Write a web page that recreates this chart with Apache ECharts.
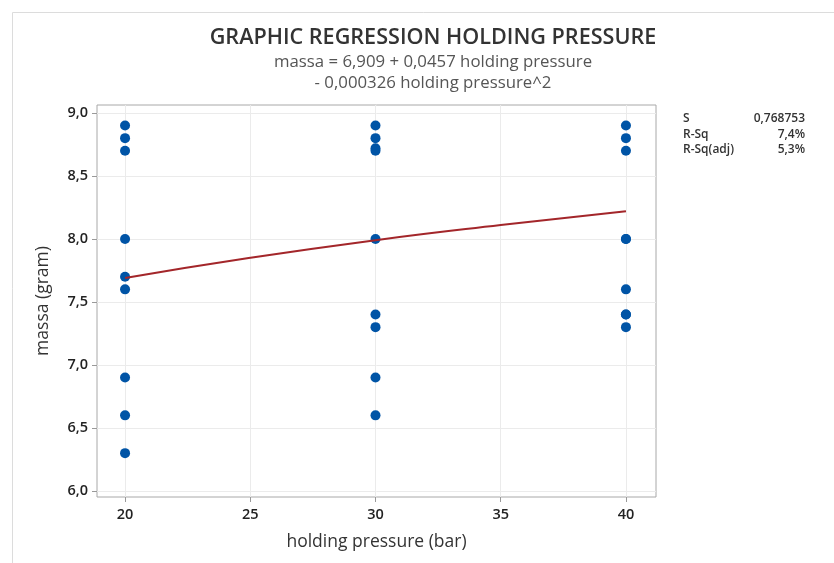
<!DOCTYPE html>
<html>
<head>
<meta charset="utf-8">
<script src="https://cdn.jsdelivr.net/npm/echarts@6/dist/echarts.min.js"></script>
<style>html,body{margin:0;padding:0;background:#fff;}#c{width:834px;height:563px;}</style>
</head>
<body>
<div id="c"></div>
<script>
// Data
const pressure20 = [8.9, 8.8, 8.7, 8.0, 7.7, 7.6, 6.9, 6.6, 6.3];
const pressure30 = [8.9, 8.8, 8.72, 8.7, 8.0, 7.4, 7.3, 6.9, 6.6];
const pressure40 = [8.9, 8.8, 8.7, 8.0, 8.0, 7.6, 7.4, 7.4, 7.3];
const fitX = [20, 25, 30, 35, 40];
const fitY = [7.69, 7.85, 7.99, 8.11, 8.22];
const xTicks = [20, 25, 30, 35, 40];
const yTicks = [6.0, 6.5, 7.0, 7.5, 8.0, 8.5, 9.0];
const statNames = ['S', 'R-Sq', 'R-Sq(adj)'];
const statValues = ['0,768753', '7,4%', '5,3%'];

const points = [];
pressure20.forEach(v => points.push([20, v]));
pressure30.forEach(v => points.push([30, v]));
pressure40.forEach(v => points.push([40, v]));
const fitData = fitX.map((x, i) => [x, fitY[i]]);

const FONT = '"Open Sans", "Noto Sans", sans-serif';
const chart = echarts.init(document.getElementById('c'), null, {renderer: 'canvas'});

const graphics = [
  {type: 'rect', left: 10, top: 10, shape: {x: 0, y: 0, width: 900, height: 700},
   style: {fill: 'none', stroke: '#dcdcdc', lineWidth: 1}, silent: true, z: -1}
];
statNames.forEach((n, i) => {
  graphics.push({type: 'text', left: 683, top: 113 + i * 15.5,
    style: {text: n, font: '600 12px ' + FONT, fill: '#333'}});
  graphics.push({type: 'text', right: 29, top: 113 + i * 15.5,
    style: {text: statValues[i], font: '600 12px ' + FONT, fill: '#333', textAlign: 'right'}});
});

const fmt = v => Number(v).toFixed(1).replace('.', ',');

chart.setOption({
  animation: false,
  backgroundColor: '#fff',
  title: [
    {text: 'GRAPHIC REGRESSION HOLDING PRESSURE', left: 428, top: 22, textAlign: 'center',
     textStyle: {fontFamily: FONT, fontSize: 21.6, fontWeight: 600, color: '#333'}},
    {text: 'massa = 6,909 + 0,0457 holding pressure', left: 428, top: 49, textAlign: 'center',
     textStyle: {fontFamily: FONT, fontSize: 16.8, fontWeight: 'normal', color: '#555'}},
    {text: '- 0,000326 holding pressure^2', left: 428, top: 70, textAlign: 'center',
     textStyle: {fontFamily: FONT, fontSize: 16.8, fontWeight: 'normal', color: '#555'}}
  ],
  graphic: graphics,
  grid: {left: 97, top: 105, width: 559, height: 392, show: true, borderColor: '#a8a8a8', borderWidth: 1, backgroundColor: 'transparent', containLabel: false},
  xAxis: {
    type: 'value', min: 18.88, max: 41.2,
    name: 'holding pressure (bar)', nameLocation: 'middle', nameGap: 36,
    nameTextStyle: {fontFamily: FONT, fontSize: 17.5, fontWeight: 500, color: '#333'},
    axisLine: {show: false},
    axisTick: {show: true, customValues: xTicks, length: 5, lineStyle: {color: '#999'}},
    axisLabel: {customValues: xTicks, fontFamily: FONT, fontSize: 14.5, fontWeight: 600, color: '#222', margin: 10, formatter: v => String(v)},
    splitLine: {show: true, lineStyle: {color: '#ebebeb', width: 1}}
  },
  yAxis: {
    type: 'value', min: 5.952, max: 9.063,
    name: 'massa (gram)', nameLocation: 'middle', nameGap: 45, nameRotate: 90,
    nameTextStyle: {fontFamily: FONT, fontSize: 17.5, fontWeight: 500, color: '#333'},
    axisLine: {show: false},
    axisTick: {show: true, customValues: yTicks, length: 5, lineStyle: {color: '#999'}},
    axisLabel: {customValues: yTicks, fontFamily: FONT, fontSize: 14.5, fontWeight: 600, color: '#222', margin: 9, formatter: fmt},
    splitLine: {show: true, lineStyle: {color: '#ebebeb', width: 1}}
  },
  series: [
    {type: 'scatter', data: points, symbol: 'circle', symbolSize: 10,
     itemStyle: {color: '#0054a6', opacity: 1}, z: 3},
    {type: 'line', data: fitData, smooth: true, symbol: 'none',
     lineStyle: {color: '#a3262a', width: 2}, z: 4}
  ]
});
</script>
</body>
</html>
